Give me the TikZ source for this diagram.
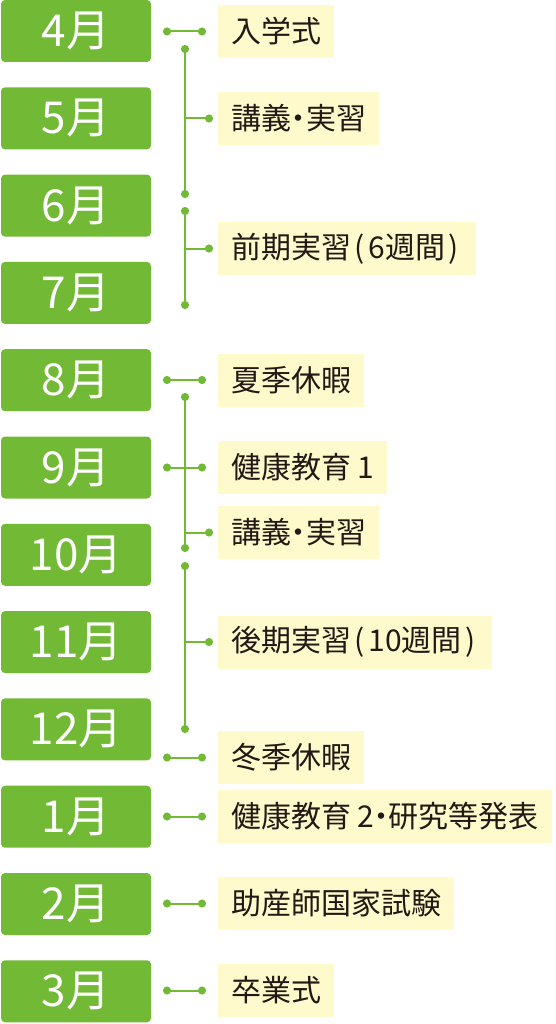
\documentclass[tikz,border=0pt]{standalone}
\usepackage{fontspec}
\setmainfont{Noto Sans CJK JP}
\usetikzlibrary{arrows.meta}

\definecolor{leafgreen}{HTML}{72B936}
\definecolor{creamy}{HTML}{FFFACB}
\definecolor{inkbrown}{HTML}{231815}
\newcommand{\nakaten}{\kern-0.25em・\kern-0.25em}
\newcommand{\lkakko}{\kern0.12em(\kern0.12em}
\newcommand{\rkakko}{\kern0.12em)\kern0.12em}

\begin{document}
\begin{tikzpicture}[
    x=1pt, y=-1pt,
    month/.style={fill=leafgreen, rounded corners=4pt, minimum width=150pt, minimum height=62pt, inner sep=0pt, text=white, font=\fontsize{44}{44}\selectfont},
    event/.style={fill=creamy, anchor=west, minimum height=53pt, inner xsep=13pt, inner ysep=0pt, text=inkbrown, font=\fontsize{30}{30}\selectfont},
    link/.style={draw=leafgreen, line width=2pt, {Circle[length=8pt]}-{Circle[length=8pt]}},
    branch/.style={draw=leafgreen, line width=2pt, -{Circle[length=8pt]}}
]
\useasboundingbox (0,0) rectangle (555,1024);

% months
\foreach \m [count=\i from 0] in {4,...,12,1,2,3}
    \node[month] (m\m) at (76, 31+87.3*\i) {\m 月};

% events
\node[event] (nyugaku) at (218, 31.5) {入学式};
\node[event] (kogi1) at (218, 118.5) {講義\nakaten 実習};
\node[event] (zenki) at (218, 248.5) {前期実習\lkakko 6週間\rkakko};
\node[event] (kaki) at (218, 380) {夏季休暇};
\node[event] (kenko1) at (218, 467.5) {健康教育\kern0.2em 1};
\node[event] (kogi2) at (218, 532.5) {講義\nakaten 実習};
\node[event] (koki) at (218, 642) {後期実習\lkakko 10週間\rkakko};
\node[event] (toki) at (218, 757.5) {冬季休暇};
\node[event] (kenko2) at (218, 816.5) {健康教育\kern0.2em 2\nakaten 研究等発表};
\node[event] (kokka) at (218, 903.5) {助産師国家試験};
\node[event] (sotsu) at (218, 990.5) {卒業式};

% bracket ends
\coordinate (s1) at (185, 45);  \coordinate (e1) at (185, 198);
\coordinate (s2) at (185, 207); \coordinate (e2) at (185, 309);
\coordinate (s3) at (185, 393); \coordinate (e3) at (185, 552);
\coordinate (s4) at (185, 562); \coordinate (e4) at (185, 733);

\draw[link] (s1) -- (e1);
\draw[link] (s2) -- (e2);
\draw[link] (s3) -- (e3);
\draw[link] (s4) -- (e4);
\draw[branch] (s1 |- kogi1.west) -- ([xshift=-5pt]kogi1.west);
\draw[branch] (s2 |- zenki.west) -- ([xshift=-5pt]zenki.west);
\draw[branch] (s3 |- kogi2.west) -- ([xshift=-5pt]kogi2.west);
\draw[branch] (s4 |- koki.west) -- ([xshift=-5pt]koki.west);

% single links
\foreach \e in {nyugaku, kaki, kenko1, toki, kenko2, kokka, sotsu}
    \draw[link] ([xshift=-55pt]\e.west) -- ([xshift=-12pt]\e.west);
\end{tikzpicture}
\end{document}
